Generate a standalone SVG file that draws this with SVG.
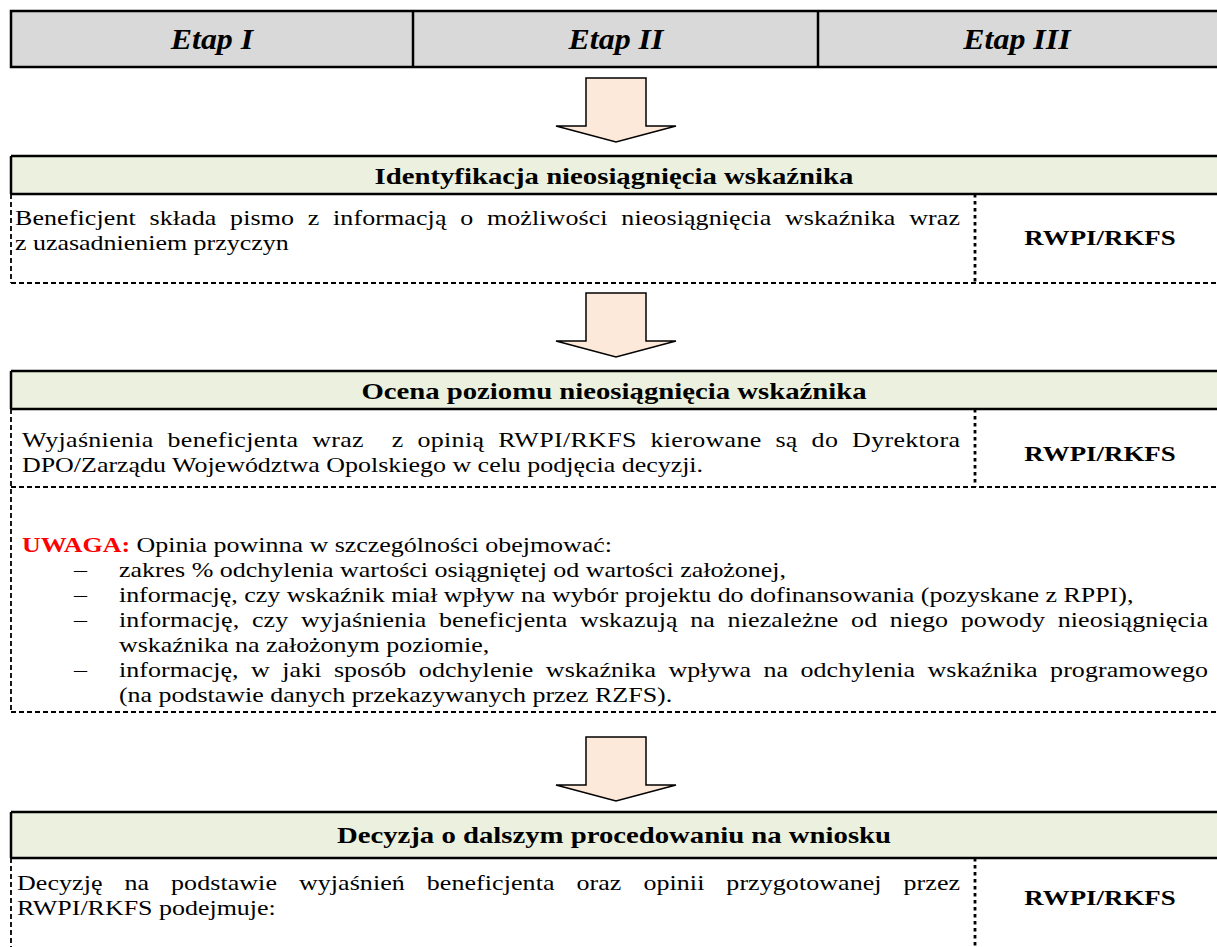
<svg xmlns="http://www.w3.org/2000/svg" width="1217" height="947" viewBox="0 0 1217 947">
<style>
.body{font-family:"Liberation Serif","Times New Roman",serif;font-size:22px;fill:#000}
.title{font-family:"Liberation Serif","Times New Roman",serif;font-size:23px;font-weight:bold;fill:#000;text-anchor:middle}
.who{font-family:"Liberation Serif","Times New Roman",serif;font-size:21.5px;font-weight:bold;fill:#000;text-anchor:middle}
.etap{font-family:"Liberation Serif","Times New Roman",serif;font-size:29px;font-weight:bold;font-style:italic;fill:#000;text-anchor:middle}
.band{fill:#ebf1de;stroke:none}
.solid{stroke:#000;stroke-width:2.5;fill:none}
.dash{stroke:#000;stroke-width:1.8;stroke-dasharray:5 3;fill:none}
.dot{stroke:#000;stroke-width:2.8;stroke-dasharray:3.5 3.5;fill:none}
.arrow{fill:#fde9d9;stroke:#000;stroke-width:1.5;stroke-linejoin:miter}
.red{fill:#ff0000;font-weight:bold}
</style>

<g id="header">
<rect x="11" y="11" width="1210" height="56" fill="#d9d9d9" stroke="#000" stroke-width="2.5"/>
<line x1="413" y1="11" x2="413" y2="67" class="solid"/>
<line x1="818" y1="11" x2="818" y2="67" class="solid"/>
<g transform="scale(1.1,1)">
<text x="192.7" y="49" class="etap">Etap I</text>
<text x="560" y="49" class="etap">Etap II</text>
<text x="924.5" y="49" class="etap">Etap III</text>
</g>
</g>

<g id="connectors">
<path class="arrow" d="M586,78 H646 V126 H676 L616,142 L556,126 H586 Z"/>
<path class="arrow" d="M586,293 H646 V341 H676 L616,357 L556,341 H586 Z"/>
<path class="arrow" d="M586,737 H646 V785 H676 L616,801 L556,785 H586 Z"/>
</g>

<g id="box1">
<rect x="11" y="156" width="1210" height="38" class="band"/>
<line x1="11" y1="156" x2="1217" y2="156" class="solid"/>
<line x1="11" y1="194" x2="1217" y2="194" class="solid"/>
<line x1="11" y1="156" x2="11" y2="194" class="solid"/>
<line x1="11" y1="194" x2="11" y2="283" class="dash"/>
<line x1="11" y1="283" x2="1217" y2="283" class="dash"/>
<line x1="975" y1="194" x2="975" y2="283" class="dot"/>
<g transform="scale(1.25,1)">
<text x="491.2" y="184" class="title">Identyfikacja nieosiągnięcia wskaźnika</text>
<text x="880" y="245" class="who">RWPI/RKFS</text>
</g>
<g transform="scale(1.18,1)">
<text x="12.7" y="225" class="body" word-spacing="6" textLength="800.8" lengthAdjust="spacing">Beneficjent składa pismo z informacją o możliwości nieosiągnięcia wskaźnika wraz</text>
<text x="12.7" y="250" class="body">z uzasadnieniem przyczyn</text>
</g>
</g>

<g id="box2">
<rect x="11" y="371" width="1210" height="38" class="band"/>
<line x1="11" y1="371" x2="1217" y2="371" class="solid"/>
<line x1="11" y1="409" x2="1217" y2="409" class="solid"/>
<line x1="11" y1="371" x2="11" y2="409" class="solid"/>
<line x1="11" y1="409" x2="11" y2="712" class="dash"/>
<line x1="11" y1="487" x2="1217" y2="487" class="dash"/>
<line x1="975" y1="409" x2="975" y2="487" class="dot"/>
<line x1="11" y1="712" x2="1217" y2="712" class="dash"/>
<g transform="scale(1.25,1)">
<text x="491.2" y="399" class="title">Ocena poziomu nieosiągnięcia wskaźnika</text>
<text x="880" y="461" class="who">RWPI/RKFS</text>
</g>
<g transform="scale(1.18,1)">
<text x="18.6" y="447" class="body" word-spacing="6" textLength="794.9" lengthAdjust="spacing">Wyjaśnienia beneficjenta wraz&#160; z opinią RWPI/RKFS kierowane są do Dyrektora</text>
<text x="18.6" y="472" class="body">DPO/Zarządu Województwa Opolskiego w celu podjęcia decyzji.</text>
<text x="18.6" y="552" class="body"><tspan class="red">UWAGA:</tspan> Opinia powinna w szczególności obejmować:</text>
<text x="62.7" y="577" class="body">–</text>
<text x="100.8" y="577" class="body">zakres % odchylenia wartości osiągniętej od wartości założonej,</text>
<text x="62.7" y="602" class="body">–</text>
<text x="100.8" y="602" class="body">informację, czy wskaźnik miał wpływ na wybór projektu do dofinansowania (pozyskane z RPPI),</text>
<text x="62.7" y="627" class="body">–</text>
<text x="100.8" y="627" class="body" word-spacing="5" textLength="922.9" lengthAdjust="spacing">informację, czy wyjaśnienia beneficjenta wskazują na niezależne od niego powody nieosiągnięcia</text>
<text x="100.8" y="652" class="body">wskaźnika na założonym poziomie,</text>
<text x="62.7" y="677" class="body">–</text>
<text x="100.8" y="677" class="body" word-spacing="5" textLength="922.9" lengthAdjust="spacing">informację, w jaki sposób odchylenie wskaźnika wpływa na odchylenia wskaźnika programowego</text>
<text x="100.8" y="702" class="body">(na podstawie danych przekazywanych przez RZFS).</text>
</g>
</g>

<g id="box3">
<rect x="11" y="812" width="1210" height="46" class="band"/>
<line x1="11" y1="812" x2="1217" y2="812" class="solid"/>
<line x1="11" y1="858" x2="1217" y2="858" class="solid"/>
<line x1="11" y1="812" x2="11" y2="858" class="solid"/>
<line x1="11" y1="858" x2="11" y2="947" class="dash"/>
<line x1="975" y1="858" x2="975" y2="947" class="dot"/>
<g transform="scale(1.25,1)">
<text x="491.2" y="843" class="title">Decyzja o dalszym procedowaniu na wniosku</text>
<text x="880" y="905" class="who">RWPI/RKFS</text>
</g>
<g transform="scale(1.18,1)">
<text x="14.4" y="890" class="body" word-spacing="13" textLength="799.2" lengthAdjust="spacing">Decyzję na podstawie wyjaśnień beneficjenta oraz opinii przygotowanej przez</text>
<text x="14.4" y="915" class="body">RWPI/RKFS podejmuje:</text>
</g>
</g>
</svg>
